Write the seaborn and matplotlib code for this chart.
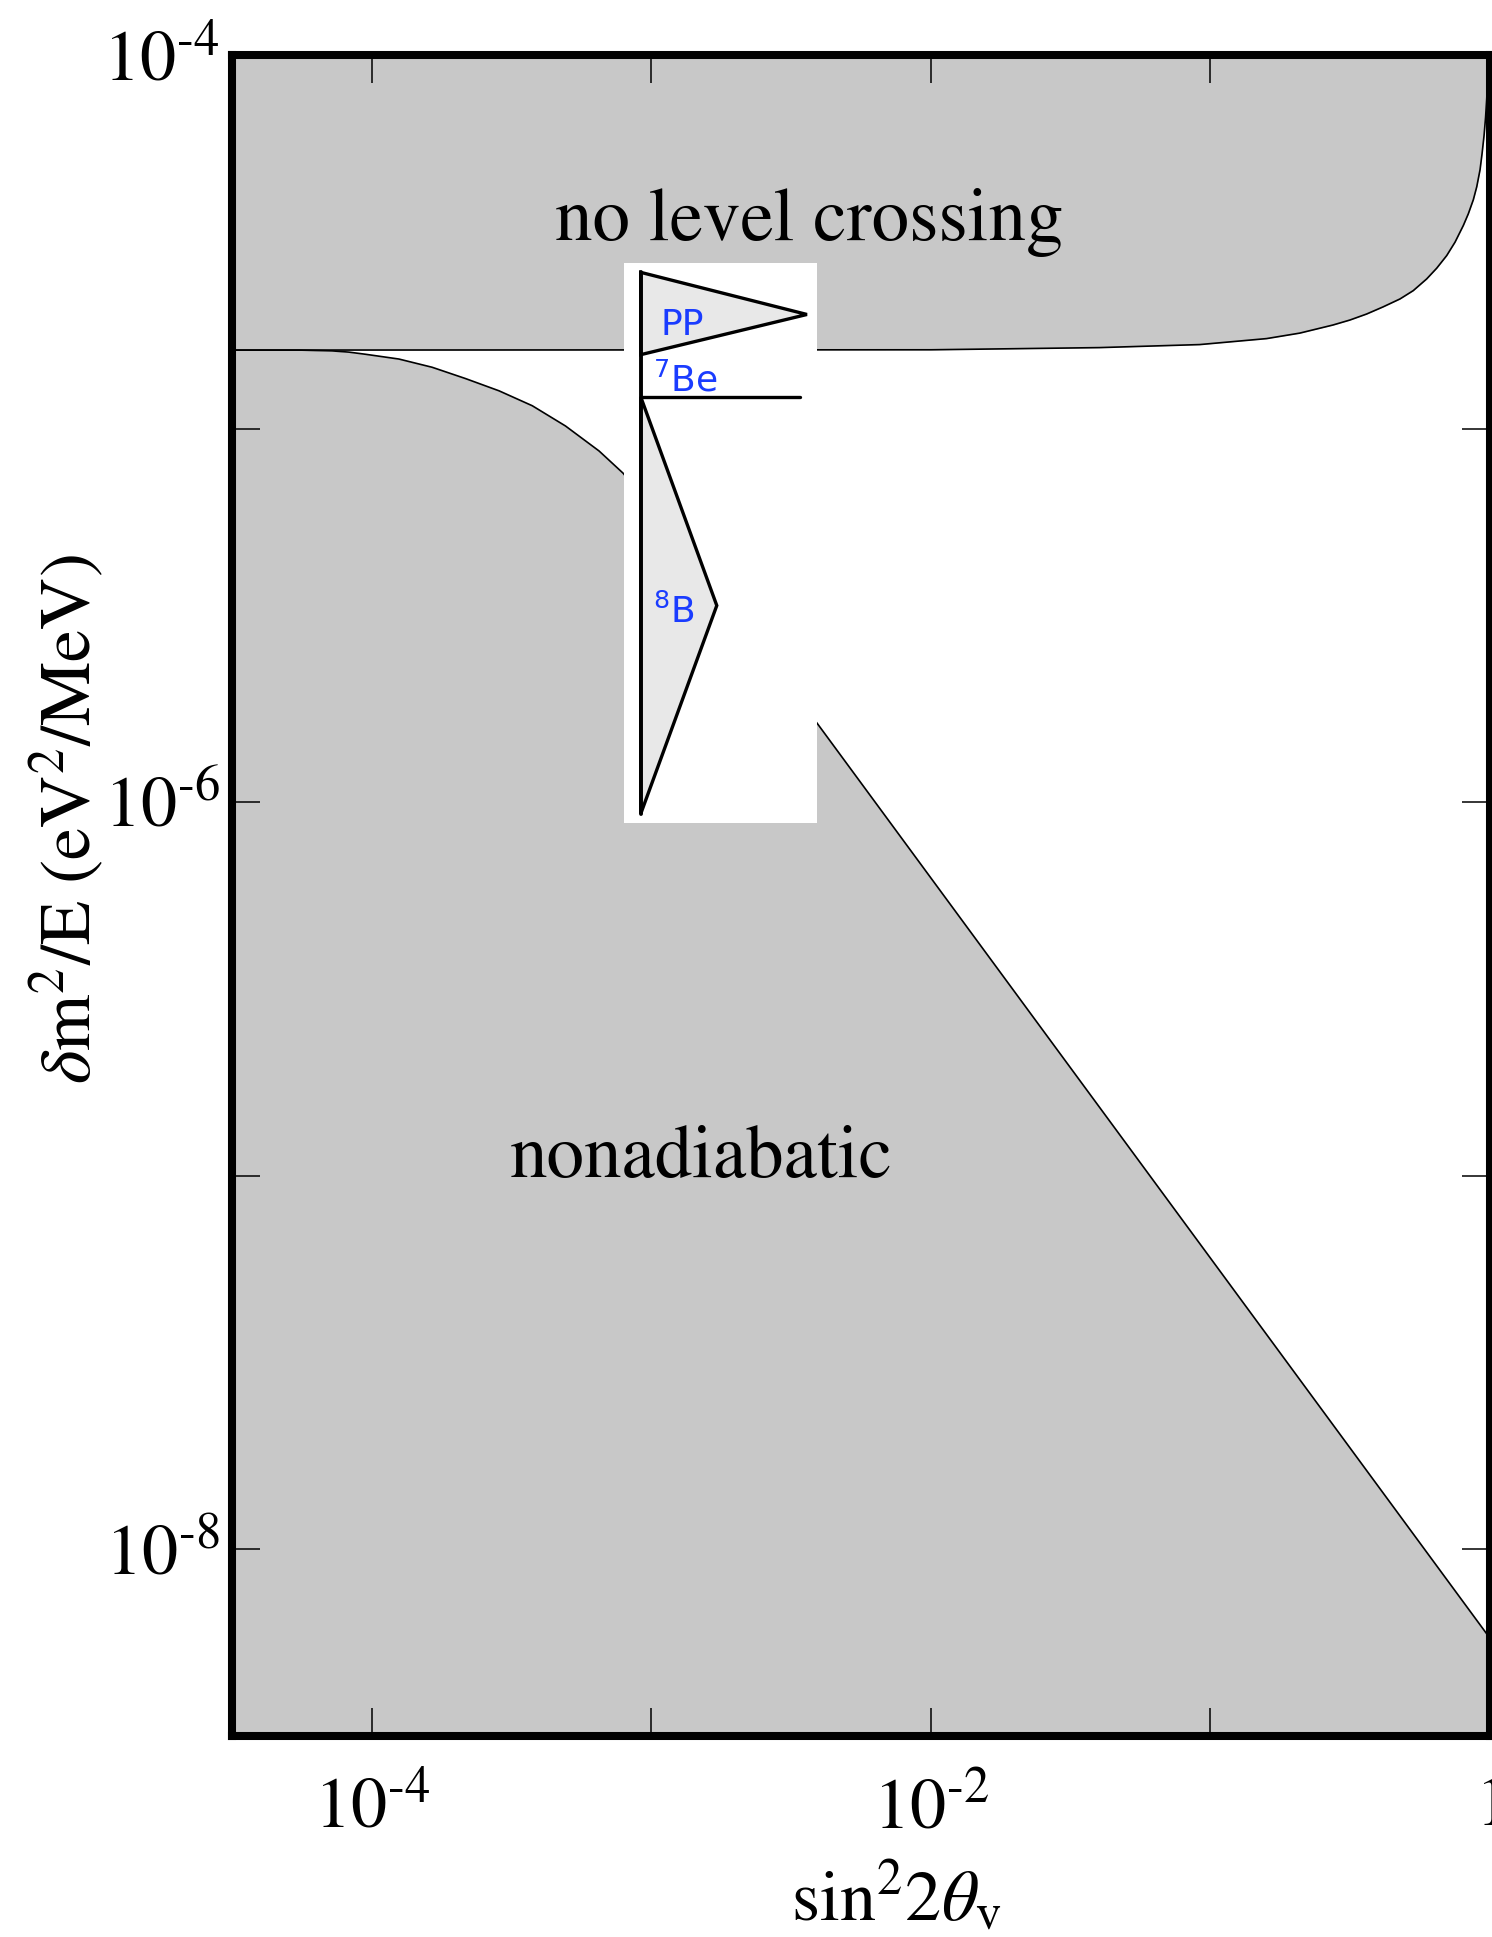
import numpy as np
import pandas as pd
import seaborn as sns
import matplotlib.pyplot as plt
from matplotlib.ticker import NullLocator

# level crossing boundary: grey region above it ("no level crossing")
cross_s2 = [3.16e-5, 1.0e-2, 0.0401, 0.0915, 0.1587, 0.2087, 0.2741, 0.3152, 0.3619, 0.4138,
            0.4762, 0.5312, 0.5933, 0.6444, 0.6996, 0.7494, 0.8025, 0.8361, 0.8714, 0.8962,
            0.9209, 0.9363, 0.9517, 0.9636, 0.9732, 0.9804, 0.9861]
cross_dm = [1.622e-5, 1.625e-5, 1.647e-5, 1.678e-5, 1.741e-5, 1.801e-5, 1.893e-5, 1.952e-5, 2.026e-5, 2.116e-5,
            2.223e-5, 2.340e-5, 2.515e-5, 2.687e-5, 2.904e-5, 3.155e-5, 3.497e-5, 3.758e-5, 4.099e-5, 4.439e-5,
            4.931e-5, 5.445e-5, 6.085e-5, 6.80e-5, 7.65e-5, 8.71e-5, 1.0e-4]

# adiabaticity boundary: grey region below it ("nonadiabatic")
nonad_s2 = [3.16e-5, 5.48e-5, 7.21e-5, 8.27e-5, 9.48e-5, 1.25e-4, 1.644e-4, 2.163e-4, 2.851e-4,
            3.75e-4, 4.93e-4, 6.50e-4, 7.93e-4, 3.90e-3, 1.0]
nonad_dm = [1.622e-5, 1.622e-5, 1.614e-5, 1.602e-5, 1.581e-5, 1.535e-5, 1.459e-5, 1.361e-5, 1.262e-5,
            1.151e-5, 1.016e-5, 8.71e-6, 7.59e-6, 1.633e-6, 5.77e-9]

# solar neutrino spectra sketch (flux in arb. units vs dm^2/E)
pp_flux = [0.0, 0.946, 0.0]
pp_dm = [2.636e-5, 2.032e-5, 1.585e-5]
be7_flux = [0.0, 0.908]
be7_dm = [1.222e-5, 1.222e-5]
b8_flux = [0.0, 0.433, 0.0]
b8_dm = [1.222e-5, 3.365e-6, 9.29e-7]
src_dm_range = [2.636e-5, 9.29e-7]

x_ticks = [1e-4, 1e-3, 1e-2, 1e-1, 1]
x_labels = ['$10^{‐4}$', '', '$10^{‐2}$', '', '$1$']
y_ticks = [1e-8, 1e-7, 1e-6, 1e-5, 1e-4]
y_labels = ['$10^{‐8}$', '', '$10^{‐6}$', '', '$10^{‐4}$']

xmin, xmax = 10**-4.5, 1.0
ymin, ymax = 10**-8.5, 1e-4

sns.set_style("white")
plt.rcParams['font.family'] = ['STIXGeneral', 'DejaVu Serif']
plt.rcParams['mathtext.fontset'] = 'stix'
plt.rcParams['text.color'] = 'black'
plt.rcParams['axes.labelcolor'] = 'black'
plt.rcParams['xtick.color'] = 'black'
plt.rcParams['ytick.color'] = 'black'

fig = plt.figure(figsize=(14.92, 19.37), dpi=100)
ax = fig.add_axes([0.1555, 0.1038, 0.8432, 0.8678])
ax.set_axisbelow(False)
ax.set_xscale('log')
ax.set_yscale('log')
ax.set_xlim(xmin, xmax)
ax.set_ylim(ymin, ymax)

grey = '#c8c8c8'
ax.fill_between(cross_s2, cross_dm, ymax, color=grey, lw=0, zorder=1)
ax.fill_between(nonad_s2, ymin, nonad_dm, color=grey, lw=0, zorder=1)
sns.lineplot(x=cross_s2, y=cross_dm, sort=False, color='black', lw=1.2, ax=ax, zorder=2)
sns.lineplot(x=nonad_s2, y=nonad_dm, sort=False, color='black', lw=1.2, ax=ax, zorder=2)

ax.text(3.67e-3, 3.2e-5, 'no level crossing', fontsize=54, ha='center', va='baseline')
ax.text(1.507e-3, 9.93e-8, 'nonadiabatic', fontsize=54, ha='center', va='baseline')

ax.set_xticks(x_ticks)
ax.set_xticklabels(x_labels)
ax.set_yticks(y_ticks)
ax.set_yticklabels(y_labels)
ax.xaxis.set_minor_locator(NullLocator())
ax.yaxis.set_minor_locator(NullLocator())
ax.tick_params(which='major', direction='in', length=20, width=1.1, color='black',
               bottom=True, left=True, top=True, right=True, labelsize=52)
ax.tick_params(axis='x', pad=29)
ax.tick_params(axis='y', pad=9)
for sp in ax.spines.values():
    sp.set_linewidth(5.8)
    sp.set_color('black')

ax.set_xlabel(r'$\mathrm{sin}^2 2\theta_\mathrm{v}$', fontsize=52, va='baseline')
ax.xaxis.set_label_coords(0.528, -0.1095)
ax.set_ylabel(r'$\delta\mathrm{m}^2/\mathrm{E}\ (\mathrm{eV}^2/\mathrm{MeV})$', fontsize=52, va='center')
ax.yaxis.set_label_coords(-0.131, 0.5455)

# inset: neutrino source spectra
ins = fig.add_axes([0.41823, 0.57527, 0.12956, 0.28895])
ins.set_facecolor('white')
ins.set_yscale('log')
ins.set_xlim(-0.095, 1.005)
ins.set_ylim(10**-6.0556, 10**-4.554)
ins.fill(pp_flux, pp_dm, facecolor='#e8e8e8', edgecolor='black', lw=2.4)
ins.fill(b8_flux, b8_dm, facecolor='#e8e8e8', edgecolor='black', lw=2.4)
ins.plot(be7_flux, be7_dm, color='black', lw=2.4)
ins.plot([0, 0], src_dm_range, color='black', lw=2.8)
blue = '#1a3cff'
lab = dict(color=blue, fontsize=26, family='DejaVu Sans', math_fontfamily='dejavusans',
           ha='center', va='baseline')
ins.text(0.238, 1.79e-5, 'PP', **lab)
ins.text(0.255, 1.259e-5, r'$^7$Be', **lab)
ins.text(0.187, 3.03e-6, r'$^8$B', **lab)
ins.set_xticks([])
ins.set_yticks([])
ins.minorticks_off()
for sp in ins.spines.values():
    sp.set_visible(False)

fig.savefig('out.png', dpi=100)
